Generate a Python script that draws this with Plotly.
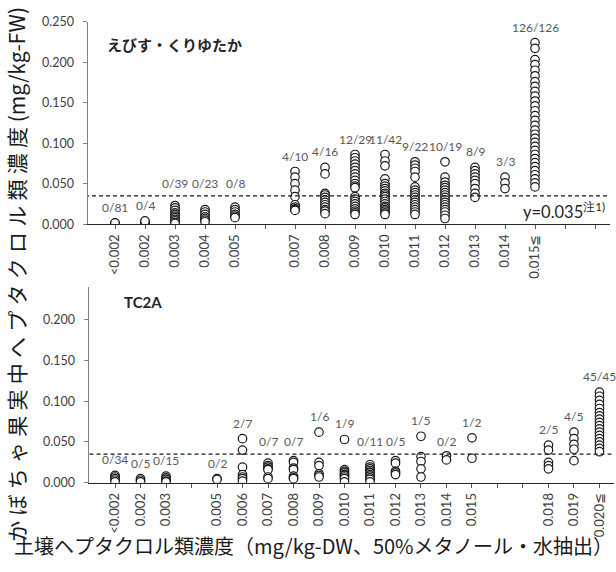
import plotly.graph_objects as go

# ---------------- data ----------------
# slot labels (blank = empty slot on axis)
top_slots = ["<0.002", "0.002", "0.003", "0.004", "0.005", "", "0.007", "0.008", "0.009",
             "0.010", "0.011", "0.012", "0.013", "0.014", "0.015≦", "", ""]
bot_slots = ["<0.002", "0.002", "0.003", "", "0.005", "0.006", "0.007", "0.008", "0.009",
             "0.010", "0.011", "0.012", "0.013", "0.014", "0.015", "", "", "0.018", "0.019", "0.020≦"]

# top panel (えびす・くりゆたか)
t_lt002 = [0.0005, 0.001, 0.0015]
t_002 = [0.001, 0.002, 0.003, 0.004]
t_003 = [0.023, 0.020, 0.017, 0.014, 0.012, 0.010, 0.008, 0.006, 0.004, 0.002, 0.001]
t_004 = [0.018, 0.015, 0.012, 0.009, 0.007, 0.005, 0.003]
t_005 = [0.021, 0.018, 0.015, 0.012, 0.010, 0.008]
t_007 = [0.065, 0.058, 0.050, 0.042, 0.034, 0.024, 0.021, 0.019, 0.018, 0.017]
t_008 = [0.070, 0.062, 0.038, 0.036, 0.033, 0.030, 0.027, 0.024, 0.021, 0.018, 0.016, 0.013]
t_009 = [0.086, 0.082, 0.078, 0.074, 0.070, 0.066, 0.062, 0.058, 0.054, 0.050, 0.047, 0.045,
         0.034, 0.031, 0.028, 0.025, 0.022, 0.019, 0.016, 0.014, 0.012]
t_010 = [0.086, 0.078, 0.072, 0.056, 0.050, 0.047, 0.044, 0.041, 0.038, 0.036,
         0.034, 0.031, 0.028, 0.025, 0.022, 0.020, 0.018, 0.016, 0.014, 0.012]
t_011 = [0.077, 0.073, 0.069, 0.065, 0.058, 0.046, 0.042, 0.039, 0.036,
         0.033, 0.030, 0.027, 0.024, 0.021, 0.018, 0.015, 0.012]
t_012 = [0.077, 0.058, 0.052, 0.048, 0.045, 0.042, 0.039, 0.036,
         0.033, 0.030, 0.027, 0.024, 0.021, 0.018, 0.015, 0.011, 0.007]
t_013 = [0.070, 0.066, 0.062, 0.058, 0.054, 0.050, 0.044, 0.038, 0.033]
t_014 = [0.058, 0.051, 0.044]
t_015 = [0.224, 0.217, 0.203, 0.197, 0.190, 0.183, 0.176, 0.170, 0.164, 0.158, 0.152, 0.146,
         0.140, 0.134, 0.128, 0.122, 0.116, 0.111, 0.106, 0.101, 0.096, 0.091, 0.086, 0.081,
         0.076, 0.071, 0.066, 0.061, 0.056, 0.051, 0.046]
top_cols = ["<0.002", "0.002", "0.003", "0.004", "0.005", "0.007", "0.008", "0.009", "0.010",
            "0.011", "0.012", "0.013", "0.014", "0.015≦"]
top_vals = [t_lt002, t_002, t_003, t_004, t_005, t_007, t_008, t_009, t_010, t_011, t_012,
            t_013, t_014, t_015]
top_counts = ["0/81", "0/4", "0/39", "0/23", "0/8", "4/10", "4/16", "12/29", "11/42", "9/22",
              "10/19", "8/9", "3/3", "126/126"]

# bottom panel (TC2A)
b_lt002 = [0.009, 0.007, 0.005, 0.003, 0.001]
b_002 = [0.005, 0.003, 0.001]
b_003 = [0.008, 0.006, 0.004, 0.002, 0.001]
b_005 = [0.005, 0.004]
b_006 = [0.054, 0.040, 0.019, 0.010, 0.007, 0.005, 0.002]
b_007 = [0.024, 0.021, 0.019, 0.017, 0.016, 0.007, 0.005]
b_008 = [0.027, 0.025, 0.018, 0.016, 0.008, 0.006, 0.005]
b_009 = [0.062, 0.025, 0.021, 0.011, 0.009, 0.007]
b_010 = [0.053, 0.016, 0.014, 0.012, 0.010, 0.009, 0.007, 0.005, 0.001]
b_011 = [0.022, 0.019, 0.017, 0.015, 0.013, 0.012, 0.010, 0.008, 0.006, 0.004, 0.001]
b_012 = [0.027, 0.024, 0.014, 0.012, 0.010]
b_013 = [0.057, 0.032, 0.026, 0.017, 0.007]
b_014 = [0.033, 0.028]
b_015 = [0.055, 0.030]
b_018 = [0.046, 0.040, 0.025, 0.021, 0.017]
b_019 = [0.062, 0.054, 0.047, 0.041, 0.027]
b_020 = [0.111, 0.106, 0.101, 0.096, 0.091, 0.086, 0.082, 0.078, 0.074, 0.070, 0.066, 0.062,
         0.058, 0.054, 0.050, 0.046, 0.042, 0.038]
bot_cols = ["<0.002", "0.002", "0.003", "0.005", "0.006", "0.007", "0.008", "0.009", "0.010",
            "0.011", "0.012", "0.013", "0.014", "0.015", "0.018", "0.019", "0.020≦"]
bot_vals = [b_lt002, b_002, b_003, b_005, b_006, b_007, b_008, b_009, b_010, b_011, b_012,
            b_013, b_014, b_015, b_018, b_019, b_020]
bot_counts = ["0/34", "0/5", "0/15", "0/2", "2/7", "0/7", "0/7", "1/6", "1/9", "0/11", "0/5",
              "1/5", "0/2", "1/2", "2/5", "4/5", "45/45"]

threshold = 0.035
y_ticks_top = [0.0, 0.05, 0.10, 0.15, 0.20, 0.25]
y_ticks_bot = [0.0, 0.05, 0.10, 0.15, 0.20]

# ---------------- figure ----------------
NUM_FONT = "Lato, 'Liberation Sans', sans-serif"
JP_FONT = "'Noto Sans CJK JP', sans-serif"
fig = go.Figure()
annotations = []


def add_panel(slots, cols, vals, counts, xa, ya):
    xs, ys = [], []
    for c, v in zip(cols, vals):
        pos = slots.index(c) + 1
        xs += [pos] * len(v)
        ys += v
    fig.add_trace(go.Scatter(
        x=xs, y=ys, mode="markers", xaxis=xa, yaxis=ya,
        marker=dict(symbol="circle", size=8.5, color="white",
                    line=dict(color="#1a1a1a", width=1.2)),
        hoverinfo="skip"))
    for c, v, n in zip(cols, vals, counts):
        pos = slots.index(c) + 1
        top = max(v)
        # labels that would collide with the dashed line sit just above it
        if top < threshold and threshold - top < 0.02:
            ly, shift = threshold, 3
        else:
            ly, shift = top, 6
        annotations.append(dict(
            x=pos, y=ly, xref=xa, yref=ya, text=n, showarrow=False,
            yanchor="bottom", yshift=shift, font=dict(family=NUM_FONT, size=12, color="#595959")))
    fig.add_trace(go.Scatter(
        x=[0, len(slots) + 1], y=[threshold, threshold], mode="lines", xaxis=xa, yaxis=ya,
        line=dict(color="#1a1a1a", width=1.2, dash="4px,3px"), hoverinfo="skip"))


add_panel(top_slots, top_cols, top_vals, top_counts, "x", "y")
add_panel(bot_slots, bot_cols, bot_vals, bot_counts, "x2", "y2")

W, H = 616, 572


def xaxis_cfg(slots, d0, d1, r0, r1, anchor):
    return dict(domain=[d0 / W, d1 / W], range=[r0, r1], anchor=anchor,
                tickmode="array", tickvals=list(range(1, len(slots) + 1)), ticktext=slots,
                tickangle=-90, ticks="outside", ticklen=4, tickcolor="#595959",
                showline=True, linecolor="#262626", linewidth=1.3,
                showgrid=False, zeroline=False,
                tickfont=dict(family=NUM_FONT, size=13, color="#404040"))


def yaxis_cfg(ticks, p_top, p_bot, r1, anchor):
    return dict(domain=[1 - p_bot / H, 1 - p_top / H], range=[0, r1], anchor=anchor,
                tickmode="array", tickvals=ticks, ticktext=[f"{t:.3f}" for t in ticks],
                ticks="outside", ticklen=4, tickcolor="#808080", ticklabelstandoff=6,
                showline=True, linecolor="#808080", linewidth=1,
                showgrid=False, zeroline=False,
                tickfont=dict(family=NUM_FONT, size=12.5, color="#404040"))


fig.update_layout(
    width=W, height=H, margin=dict(l=0, r=0, t=0, b=0),
    paper_bgcolor="white", plot_bgcolor="white", showlegend=False,
    xaxis=xaxis_cfg(top_slots, 87.5, 610, 0.083, 17.5, "y"),
    yaxis=yaxis_cfg(y_ticks_top, 14, 222, 0.25, "x"),
    xaxis2=xaxis_cfg(bot_slots, 88.5, 614, -0.04, 20.57, "y2"),
    yaxis2=yaxis_cfg(y_ticks_bot, 287, 487.5, 0.2394, "x2"),
)

annotations += [
    dict(x=105 / W, y=1 - 37 / H, xref="paper", yref="paper", text="<b>えびす・くりゆたか</b>",
         showarrow=False, xanchor="left", yanchor="middle",
         font=dict(family=JP_FONT, size=15, color="#262626")),
    dict(x=122 / W, y=1 - 302 / H, xref="paper", yref="paper", text="<b>TC2A</b>",
         showarrow=False, xanchor="left", yanchor="middle",
         font=dict(family=NUM_FONT, size=15, color="#262626")),
    dict(x=521 / W, y=1 - 208 / H, xref="paper", yref="paper",
         text="y=0.035<sup>注1)</sup>", showarrow=False, xanchor="left", yanchor="middle",
         font=dict(family=NUM_FONT, size=16.5, color="#262626")),
    dict(x=16 / W, y=1 - 274 / H, xref="paper", yref="paper",
         text="\u2005".join("かぼちゃ果実中へプタクロル類濃度") + " (mg/kg-FW)",
         showarrow=False, textangle=-90, xanchor="center", yanchor="middle",
         font=dict(family=JP_FONT, size=21, color="#1a1a1a")),
    dict(x=313 / W, y=1 - 552 / H, xref="paper", yref="paper",
         text="土壌ヘプタクロル類濃度（mg/kg-DW、50%メタノール・水抽出）",
         showarrow=False, xanchor="center", yanchor="middle",
         font=dict(family=JP_FONT, size=20, color="#1a1a1a")),
]
fig.update_layout(annotations=annotations)

fig.write_html("out.html", config={"displayModeBar": False},
               post_script="document.body.style.margin='0px';document.body.style.overflow='hidden';")
